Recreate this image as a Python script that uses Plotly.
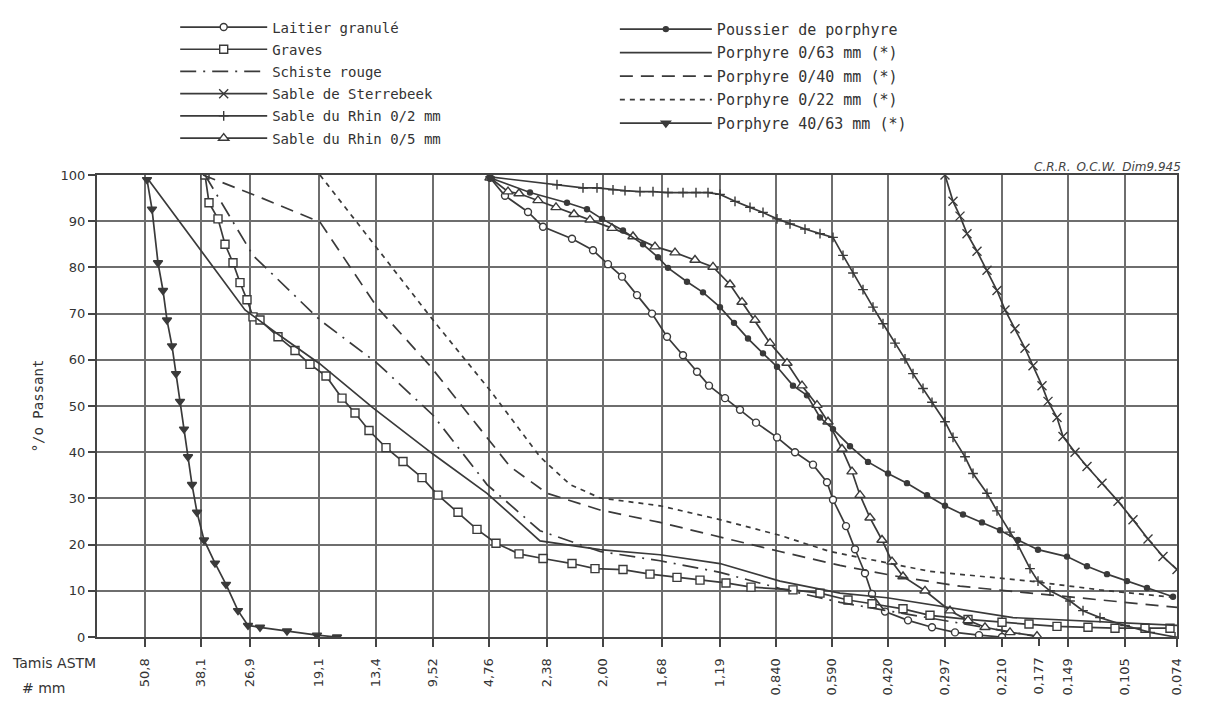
import plotly.graph_objects as go

# ---------------- axis definitions (sieve scale of the original sheet) ----------------
SIEVE_LABELS = ["50,8", "38,1", "26,9", "19,1", "13,4", "9,52", "4,76", "2,38", "2,00", "1,68",
                "1,19", "0,840", "0,590", "0,420", "0,297", "0,210", "0,177", "0,149", "0,105", "0,074"]
SIEVE_POS = [145, 201, 250, 319, 376, 433, 489, 547, 603, 662,
             720, 776, 832, 888, 945, 1002, 1039, 1068, 1125, 1177]
X_RANGE = [97, 1177]          # 63 mm border ... 0,074 mm
Y_TICKS = [0, 10, 20, 30, 40, 50, 60, 70, 80, 90, 100]

# ---------------- data (position on sieve scale, % passant) ----------------
LAITIER_X = [490, 505, 528, 543, 572, 593, 608, 622, 637, 652, 667, 683, 697, 709, 725, 740, 756, 777,
             795, 813, 827, 833, 846, 855, 865, 872, 885, 908, 932, 955, 979, 1002]
LAITIER_Y = [99.4, 95.5, 92, 88.8, 86.2, 83.7, 80.7, 78, 74, 70, 65, 61, 57.4, 54.4, 51.7, 49.2, 46.4, 43.2,
             40, 37.3, 33.5, 29.7, 24, 19, 13.8, 9.3, 5.5, 3.6, 2.1, 1, 0.4, 0]

GRAVES_X = [205, 209, 218, 225, 233, 240, 247, 253, 260, 278, 295, 310, 326, 342, 355, 369, 386, 403,
            422, 438, 458, 477, 496, 519, 543, 572, 595, 623, 650, 677, 700, 726, 751, 793, 820, 848,
            872, 903, 930, 968, 1002, 1029, 1057, 1088, 1115, 1145, 1170]
GRAVES_Y = [100, 94, 90.5, 85, 81, 76.7, 73, 69.3, 68.6, 65, 62, 59, 56.5, 51.7, 48.5, 44.7, 41, 38,
            34.5, 30.7, 27, 23.3, 20.3, 18, 17, 15.9, 14.8, 14.6, 13.6, 12.9, 12.3, 11.7, 10.8, 10.2, 9.5, 8.0,
            7.2, 6.1, 4.7, 3.8, 3.2, 2.8, 2.3, 2.1, 1.9, 1.9, 1.9]

SCHISTE_X = [205, 253, 320, 377, 433, 487, 540, 600, 660, 720, 780, 840, 887, 945, 1002, 1040]
SCHISTE_Y = [100, 82.6, 68.6, 59.3, 48, 33, 23, 18.5, 16.5, 14, 10.5, 7.5, 5.7, 3.5, 1.5, 0]

STERREBEEK_X = [945, 953, 960, 967, 977, 987, 997, 1005, 1015, 1025, 1033, 1042, 1048, 1057, 1063,
                1075, 1087, 1102, 1118, 1133, 1148, 1163, 1177]
STERREBEEK_Y = [100, 94.3, 91.1, 87.3, 83.5, 79.4, 75, 70.8, 66.7, 62.5, 58.7, 54.4, 51, 47.5, 43.4,
                40, 36.9, 33.3, 29.4, 25.4, 21.2, 17.4, 14.6]

RHIN02_X = [490, 557, 583, 597, 613, 625, 640, 653, 668, 683, 696, 708, 720, 735, 750, 763, 777, 790,
            805, 820, 833, 843, 853, 863, 873, 883, 895, 905, 913, 923, 932, 945, 953, 965, 973, 987,
            997, 1010, 1018, 1030, 1038, 1050, 1070, 1083, 1100, 1125, 1150, 1175]
RHIN02_Y = [99.6, 97.9, 97.2, 97.2, 96.8, 96.6, 96.4, 96.4, 96.2, 96.2, 96.2, 96.2, 95.8, 94.3, 93, 91.9, 90.5, 89.4,
            88.3, 87.3, 86.5, 82.6, 78.8, 75.2, 71.4, 67.8, 63.6, 60.2, 57, 53.8, 50.8, 46.6, 43.2, 39, 35.4, 31.1,
            27.3, 22.7, 19.9, 14.8, 12.1, 10, 7.8, 5.7, 4.2, 2.5, 1, 0]

RHIN05_X = [490, 508, 519, 538, 556, 574, 590, 612, 633, 655, 675, 695, 713, 730, 742, 755, 770, 787,
            802, 817, 828, 842, 852, 860, 870, 882, 892, 903, 925, 950, 968, 985, 1010, 1037]
RHIN05_Y = [99.4, 96.4, 96, 94.5, 93, 91.5, 90.3, 88.5, 86.7, 84.5, 83.2, 81.6, 80.1, 76.3, 72.5, 68.6, 63.6, 59.3,
            54.4, 50.2, 46.6, 40.7, 35.8, 30.7, 25.8, 21, 16.3, 13.1, 10, 5.7, 3.6, 2.1, 1, 0.2]

POUSSIER_X = [490, 530, 567, 587, 602, 623, 643, 658, 668, 687, 703, 720, 734, 748, 763, 777, 793, 807,
              820, 833, 850, 868, 888, 907, 927, 945, 963, 982, 1000, 1018, 1038, 1067, 1087, 1107, 1127,
              1147, 1173]
POUSSIER_Y = [99.4, 96.2, 94, 92.6, 90.5, 88, 85, 82.2, 79.9, 76.9, 74.6, 71.4, 68, 64.6, 61.4, 58.5, 54.4, 52.3,
              47.5, 45, 41.3, 37.9, 35.4, 33.3, 30.7, 28.4, 26.5, 24.8, 23.1, 21, 18.9, 17.4, 15.3, 13.6, 12.1,
              10.6, 8.7]

P063_X = [147, 245, 277, 320, 373, 433, 487, 540, 600, 660, 720, 780, 840, 887, 1013, 1177]
P063_Y = [99.4, 70.8, 65.7, 59.1, 49.6, 39.6, 31.1, 20.8, 18.9, 17.8, 15.9, 12.1, 9.5, 8.5, 4.2, 2.5]

P040_X = [203, 262, 320, 377, 430, 460, 510, 547, 600, 660, 720, 780, 840, 900, 960, 1030, 1100, 1177]
P040_Y = [100, 95, 89.8, 71.4, 58.7, 50.6, 36.9, 31.1, 27.5, 24.8, 21.6, 18.5, 15.5, 13, 11, 9.5, 8, 6.4]

P022_X = [320, 377, 433, 490, 540, 570, 600, 660, 720, 780, 830, 930, 1030, 1100, 1177]
P022_Y = [100, 84.1, 68.6, 53.4, 39, 33, 30.1, 28.4, 25.4, 22, 18.5, 14.2, 12.1, 10.2, 8.5]

P4063_X = [147, 152, 158, 163, 167, 172, 176, 180, 184, 188, 192, 197, 204, 215, 226, 238, 248, 260,
           287, 317, 337]
P4063_Y = [99, 92.6, 81, 75, 68.6, 63, 57, 51, 45, 39, 33, 27, 21, 16, 11.4, 5.7, 2.5, 2.1,
           1.3, 0.4, 0]

# ---------------- styling ----------------
INK = "#3a3a3a"
GRID = "#6e6e6e"
FONT = "DejaVu Sans"
LETTER = "DejaVu Sans Mono"

fig = go.Figure()


def add_curve(name, x, y, legend, dash="solid", symbol=None, size=7, filled=False, xaxis="x"):
    kw = dict(x=x, y=y, name=name, legend=legend, legendgroup=name, xaxis=xaxis,
              line=dict(color=INK, width=1.7, dash=dash))
    if symbol is None:
        kw["mode"] = "lines"
    else:
        kw["mode"] = "lines+markers"
        kw["marker"] = dict(symbol=symbol, size=size,
                            color=INK if filled else "white",
                            line=dict(color=INK, width=1.4))
    fig.add_trace(go.Scatter(**kw))


# left legend column
add_curve("Laitier granulé", LAITIER_X, LAITIER_Y, "legend", symbol="circle", size=7)
add_curve("Graves", GRAVES_X, GRAVES_Y, "legend", symbol="square", size=8)
add_curve("Schiste rouge", SCHISTE_X, SCHISTE_Y, "legend", dash="16px,7px,2px,7px")
add_curve("Sable de Sterrebeek", STERREBEEK_X, STERREBEEK_Y, "legend", symbol="x-thin", size=9,
          xaxis="x2")
add_curve("Sable du Rhin 0/2 mm", RHIN02_X, RHIN02_Y, "legend", symbol="cross-thin", size=7)
add_curve("Sable du Rhin 0/5 mm", RHIN05_X, RHIN05_Y, "legend", symbol="triangle-up", size=9)
# right legend column
add_curve("Poussier de porphyre", POUSSIER_X, POUSSIER_Y, "legend2", symbol="circle", size=5, filled=True)
add_curve("Porphyre 0/63 mm (*)", P063_X, P063_Y, "legend2")
add_curve("Porphyre 0/40 mm (*)", P040_X, P040_Y, "legend2", dash="13px,8px")
add_curve("Porphyre 0/22 mm (*)", P022_X, P022_Y, "legend2", dash="5px,5px")
add_curve("Porphyre 40/63 mm (*)", P4063_X, P4063_Y, "legend2", symbol="triangle-down", size=8, filled=True)

GRID_POS = [p for p, lab in zip(SIEVE_POS, SIEVE_LABELS) if lab != "0,177"]
GRID_TXT = [lab for lab in SIEVE_LABELS if lab != "0,177"]
EXTRA_POS = [p for p, lab in zip(SIEVE_POS, SIEVE_LABELS) if lab == "0,177"]
EXTRA_TXT = ["0,177"]

axis_font = dict(family=FONT, size=13, color="#333")

fig.update_layout(
    width=1212, height=708,
    margin=dict(l=97, r=35, t=165, b=71),
    paper_bgcolor="white", plot_bgcolor="white",
    font=dict(family=FONT, color="#333"),
    xaxis=dict(range=X_RANGE, tickmode="array", tickvals=GRID_POS, ticktext=GRID_TXT,
               showgrid=True, gridcolor=GRID, gridwidth=1.5, zeroline=False,
               showline=True, mirror=True, linecolor="#444", linewidth=2.2,
               ticks="outside", ticklen=8, tickwidth=1.5, tickcolor="#444",
               tickangle=-90, tickfont=axis_font, ticklabelstandoff=6),
    xaxis2=dict(range=X_RANGE, overlaying="x", anchor="y", side="bottom",
                tickmode="array", tickvals=EXTRA_POS, ticktext=EXTRA_TXT,
                showgrid=False, zeroline=False, showline=False,
                ticks="outside", ticklen=8, tickwidth=1.5, tickcolor="#444",
                tickangle=-90, tickfont=axis_font, ticklabelstandoff=6),
    yaxis=dict(range=[0, 100], tickmode="array", tickvals=Y_TICKS,
               showgrid=True, gridcolor=GRID, gridwidth=1.5, zeroline=False,
               showline=True, mirror=True, linecolor="#444", linewidth=2.2,
               ticks="outside", ticklen=7, tickwidth=1.5, tickcolor="#444",
               tickfont=axis_font,
               title=dict(text="°/o Passant", font=dict(family=LETTER, size=14, color="#333"), standoff=14)),
    legend=dict(x=0.0724, y=1.354, xanchor="left", yanchor="top", bgcolor="rgba(0,0,0,0)",
                font=dict(family=LETTER, size=14, color="#333"), itemwidth=87,
                traceorder="grouped", tracegroupgap=1),
    legend2=dict(x=0.4795, y=1.351, xanchor="left", yanchor="top", bgcolor="rgba(0,0,0,0)",
                 font=dict(family=LETTER, size=15, color="#333"), itemwidth=92,
                 traceorder="grouped", tracegroupgap=1),
    annotations=[
        dict(text="Tamis ASTM", xref="paper", yref="paper", x=-0.081, y=-0.056,
             xanchor="left", yanchor="middle", showarrow=False,
             font=dict(family=FONT, size=14, color="#333")),
        dict(text="# mm", xref="paper", yref="paper", x=-0.071, y=-0.11,
             xanchor="left", yanchor="middle", showarrow=False,
             font=dict(family=FONT, size=14, color="#333")),
        dict(text="<i>C.R.R._O.C.W._Dim9.945</i>", xref="paper", yref="paper", x=1.006, y=1.018,
             xanchor="right", yanchor="middle", showarrow=False,
             font=dict(family=FONT, size=12, color="#444")),
    ],
)

fig.write_html("out.html")
